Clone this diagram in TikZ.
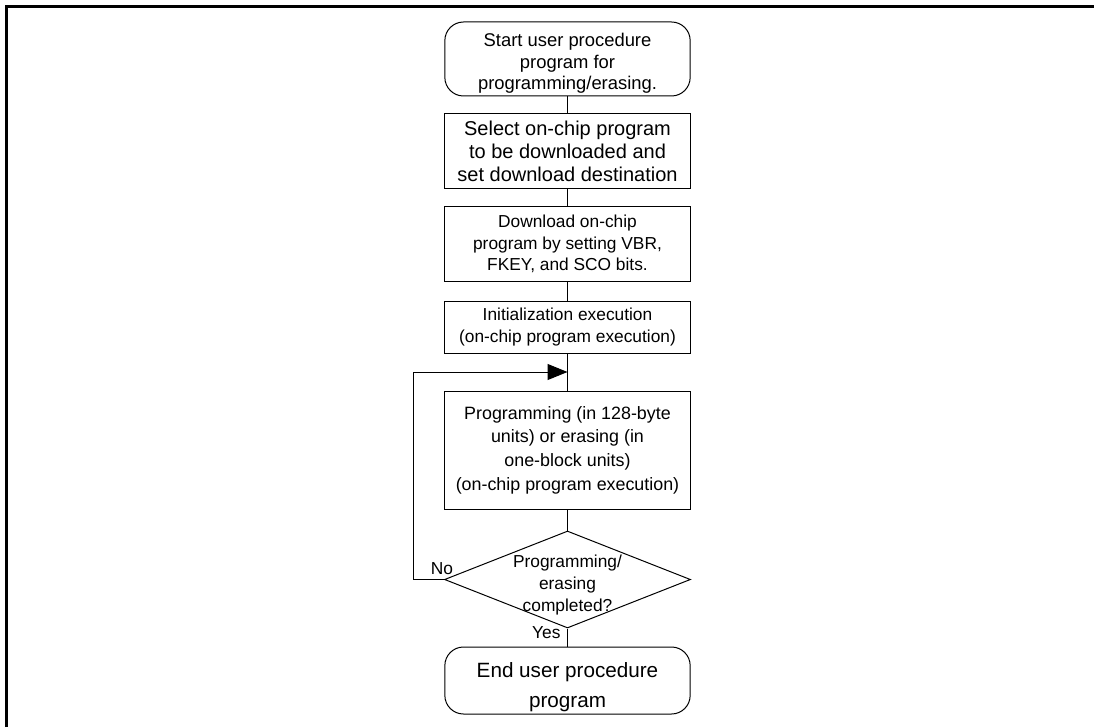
\documentclass[tikz,border=0pt]{standalone}
\usepackage{fontspec}
\setmainfont{Liberation Sans}
\usetikzlibrary{shapes.geometric,arrows.meta}
\begin{document}
\begin{tikzpicture}[x=0.75pt,y=-0.75pt,
  line width=0.75pt,
  flowbox/.style={draw, rectangle, minimum width=184pt, inner sep=0pt, align=center},
  term/.style={flowbox, rounded corners=14pt},
  decision/.style={draw, diamond, minimum width=184.5pt, minimum height=72.75pt, inner sep=0pt},
  smalltxt/.style={font=\fontsize{13}{16}\selectfont},
  bigtxt/.style={font=\fontsize{15}{17.3}\selectfont},
  lbl/.style={font=\fontsize{13}{15}\selectfont, inner sep=0pt},
  link/.style={draw, line width=0.75pt},
  frame/.style={line width=1.9pt}
]
\useasboundingbox (0,0) rectangle (1094,727);
\draw[frame] (6.5,727) -- (6.5,6.5) -- (1094,6.5);

\node[term, font=\fontsize{13.8}{16.3}\selectfont, minimum height=55.5pt] (start) at (567.5,59)
  {\rule{0pt}{16.5pt}Start user procedure\\program for\\programming/erasing.};
\node[flowbox, bigtxt, minimum height=56.25pt] (sel) at (567.5,151.5)
  {Select on-chip program\\to be downloaded and\\set download destination};
\node[flowbox, smalltxt, minimum height=55.5pt] (dl) at (567.5,244)
  {Download on-chip\\program by setting VBR,\\FKEY, and SCO bits.};
\node[flowbox, font=\fontsize{13}{17}\selectfont, minimum height=39pt] (init) at (567.5,327)
  {Initialization execution\\(on-chip program execution)};
\node[flowbox, font=\fontsize{13.4}{17.7}\selectfont, minimum height=88.5pt] (prog) at (567.5,450)
  {Programming (in 128-byte\\units) or erasing (in\\one-block units)\\(on-chip program execution)};
\node[decision] (dec) at (567.5,579.5) {};
\node[align=center, inner sep=0pt, font=\fontsize{13}{16.5}\selectfont] (dectxt) at (567.5,585)
  {Programming/\\erasing\\completed?};
\node[term, font=\fontsize{15.5}{22.5}\selectfont, minimum height=50.25pt] (end) at (567.5,680.5)
  {\rule{0pt}{21.5pt}End user procedure\\program};

\coordinate (join) at (567.5,372);
\coordinate (cA) at (413,579.5);
\coordinate (cB) at (413,372);

\draw[link] (start) -- (sel);
\draw[link] (sel) -- (dl);
\draw[link] (dl) -- (init);
\draw[link] (init) -- (prog);
\draw[link] (prog) -- (dec);
\draw[link] (dec) -- (end);
\draw[link, -{Triangle[length=15pt,width=12pt]}] (dec.west) -- (cA) -- (cB) -- (join);

\node[lbl] (no) at (442,569) {No};
\node[lbl, anchor=east] (yes) at (561,633) {Yes};
\end{tikzpicture}
\end{document}
